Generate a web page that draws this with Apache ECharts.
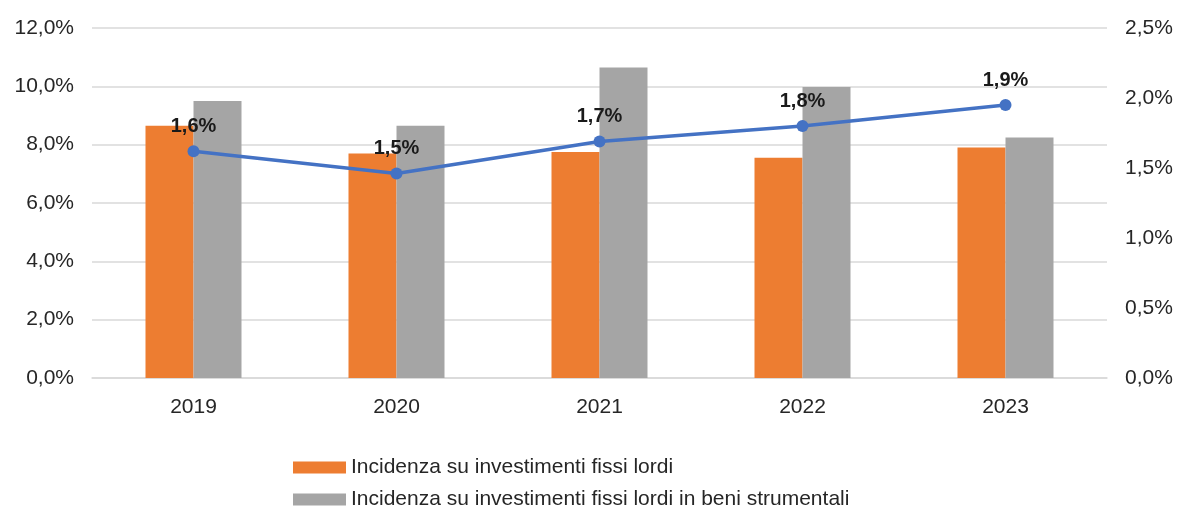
<!DOCTYPE html>
<html><head><meta charset="utf-8">
<script src="https://cdn.jsdelivr.net/npm/echarts@6/dist/echarts.min.js"></script>
<style>html,body{margin:0;padding:0;background:#fff}#c{width:1179px;height:509px}</style>
</head><body><div id="c"></div>
<script>
const categories = ['2019','2020','2021','2022','2023'];
const seriesFissi = [8.65, 7.70, 7.75, 7.55, 7.90];
const seriesStrumentali = [9.50, 8.65, 10.65, 9.98, 8.25];
const lineValues = [1.62, 1.46, 1.69, 1.80, 1.95];
const lineLabels = ['1,6%','1,5%','1,7%','1,8%','1,9%'];
const nameFissi = 'Incidenza su investimenti fissi lordi';
const nameStrum = 'Incidenza su investimenti fissi lordi in beni strumentali';

const fmt = v => v.toFixed(1).replace('.', ',') + '%';
const font = 'Liberation Sans, Arial, sans-serif';
const legendText = {fontFamily:font, fontSize:21, color:'#262626'};
const chart = echarts.init(document.getElementById('c'));
chart.setOption({
  animation:false,
  grid:{left:92, right:72, top:28, bottom:131},
  legend:[
    {data:[nameFissi], left:293, top:457, padding:0, itemWidth:53, itemHeight:12, itemGap:0, icon:'rect', textStyle:legendText},
    {data:[nameStrum], left:293, top:489, padding:0, itemWidth:53, itemHeight:12, itemGap:0, icon:'rect', textStyle:legendText}
  ],
  xAxis:{type:'category', data:categories,
    axisLine:{lineStyle:{color:'#d9d9d9', width:1.5}}, axisTick:{show:false},
    axisLabel:{fontFamily:font, fontSize:21, color:'#262626', margin:19}},
  yAxis:[
    {type:'value', min:0, max:12, interval:2,
     splitLine:{lineStyle:{color:'#d9d9d9', width:1.5}},
     axisLabel:{formatter:fmt, fontFamily:font, fontSize:21, color:'#262626', margin:18}},
    {type:'value', min:0, max:2.5, interval:0.5, splitLine:{show:false},
     axisLabel:{formatter:fmt, fontFamily:font, fontSize:21, color:'#262626', margin:18}}
  ],
  series:[
    {name:nameFissi, type:'bar', data:seriesFissi, barWidth:48, barGap:'0%', itemStyle:{color:'#ED7D31'}},
    {name:nameStrum, type:'bar', data:seriesStrumentali, barWidth:48, barGap:'0%', itemStyle:{color:'#A5A5A5'}},
    {name:'line', type:'line', yAxisIndex:1, data:lineValues, symbol:'circle', symbolSize:12,
     lineStyle:{color:'#4472C4', width:3.5}, itemStyle:{color:'#4472C4'},
     label:{show:true, position:'top', distance:9, formatter:p=>lineLabels[p.dataIndex],
       fontFamily:font, fontSize:20, fontWeight:'bold', color:'#1a1a1a'}}
  ]
});
</script></body></html>
